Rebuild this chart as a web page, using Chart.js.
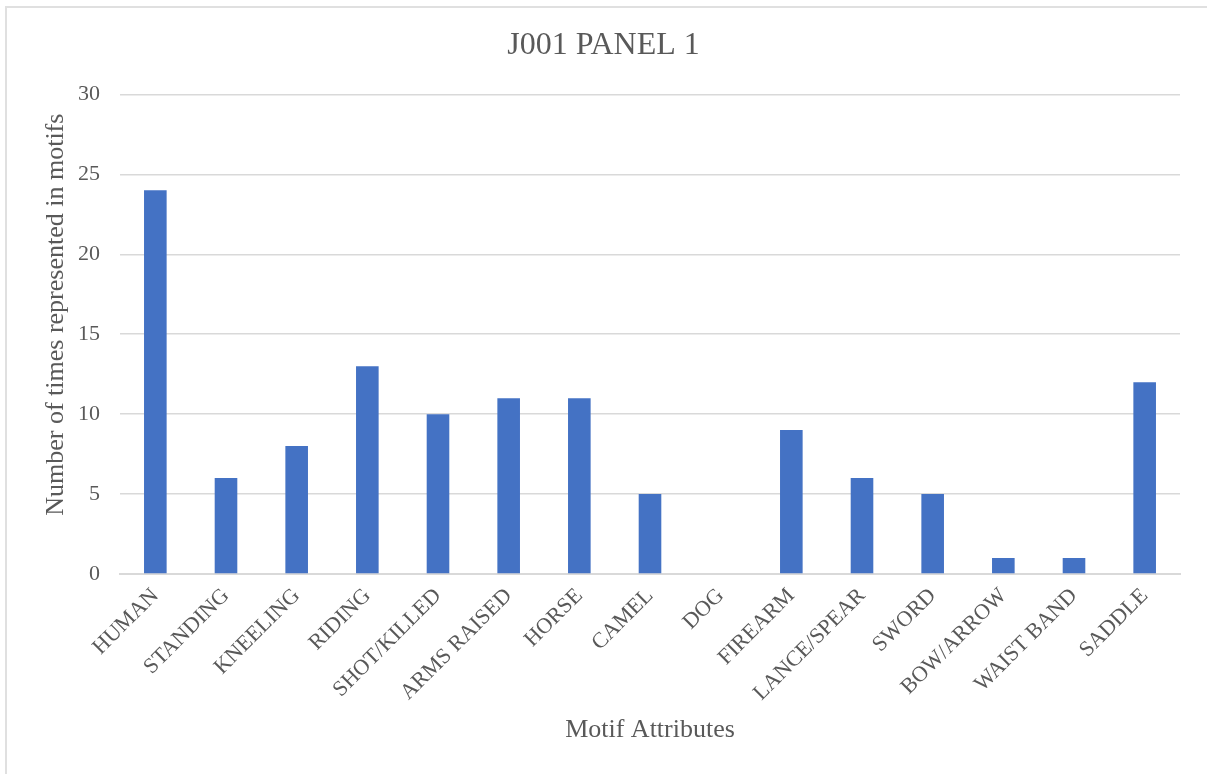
<!DOCTYPE html>
<html>
<head>
<meta charset="utf-8">
<script src="https://cdn.jsdelivr.net/npm/chart.js@4/dist/chart.umd.min.js"></script>
<style>
  body { margin: 0; background: #fff; }
  #wrap { position: relative; width: 1207px; height: 774px; overflow: hidden; }
  #frame { position: absolute; left: 5px; top: 6px; width: 1300px; height: 900px;
           border-left: 2px solid #e0e0e0; border-top: 2px solid #e0e0e0; }
  canvas { position: absolute; left: 0; top: 0; }
</style>
</head>
<body>
<div id="wrap">
  <div id="frame"></div>
  <canvas id="chart" width="1207" height="774"></canvas>
</div>
<script>
// Data
const categories = ['HUMAN', 'STANDING', 'KNEELING', 'RIDING', 'SHOT/KILLED', 'ARMS RAISED', 'HORSE',
  'CAMEL', 'DOG', 'FIREARM', 'LANCE/SPEAR', 'SWORD', 'BOW/ARROW', 'WAIST BAND', 'SADDLE'];
const counts = [24, 6, 8, 13, 10, 11, 11, 5, 0, 9, 6, 5, 1, 1, 12];
const yTicks = [0, 5, 10, 15, 20, 25, 30];

const serif = "'Liberation Serif', 'Times New Roman', serif";
const textColor = '#595959';
const gridColor = '#d9d9d9';

const ctx = document.getElementById('chart').getContext('2d');
const chart = new Chart(ctx, {
  type: 'bar',
  data: {
    labels: categories,
    datasets: [
      {
        label: 'Count',
        data: counts,
        backgroundColor: '#4472c4',
        borderWidth: 0,
        categoryPercentage: 1,
        barPercentage: 0.32,
      },
    ],
  },
  options: {
    responsive: false,
    animation: false,
    devicePixelRatio: 1,
    layout: { padding: 0 },
    plugins: {
      legend: { display: false },
      tooltip: { enabled: false },
      title: {
        display: true,
        text: 'J001 PANEL 1',
        color: textColor,
        font: { family: serif, size: 32, weight: 'normal' },
        padding: { top: 26, bottom: 30 },
      },
    },
    scales: {
      x: {
        grid: { display: false, drawTicks: false },
        border: { display: true, color: gridColor, width: 2 },
        ticks: {
          color: textColor,
          font: { family: serif, size: 22 },
          autoSkip: false,
          maxRotation: 45,
          minRotation: 45,
          padding: 9,
        },
        title: {
          display: true,
          text: 'Motif Attributes',
          color: textColor,
          font: { family: serif, size: 26 },
          padding: { top: 0, bottom: 28 },
        },
        // keep plot bottom at the 0 line and leave room on the right
        afterFit: (scale) => { scale.height = 200; scale.paddingRight = 27; },
      },
      y: {
        min: 0,
        max: 30,
        afterBuildTicks: (scale) => { scale.ticks = yTicks.map((v) => ({ value: v })); },
        grid: { color: gridColor, lineWidth: 1.5, drawTicks: false },
        border: { display: false },
        ticks: {
          color: textColor,
          font: { family: serif, size: 22 },
          padding: 20,
        },
        title: {
          display: true,
          text: '      Number of times represented in motifs',
          color: textColor,
          font: { family: serif, size: 26 },
          padding: { top: 41, bottom: 0 },
        },
        afterFit: (scale) => { scale.width = 120; },
      },
    },
  },
});
</script>
</body>
</html>
